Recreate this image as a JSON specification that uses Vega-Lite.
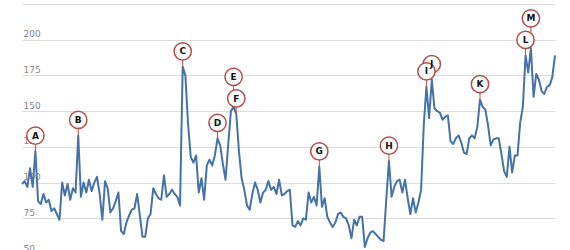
{
  "$schema": "https://vega.github.io/schema/vega-lite/v6.json",
  "width": 533,
  "height": 246,
  "autosize": {"type": "none"},
  "padding": {"left": 22, "top": 4, "right": 15, "bottom": 0},
  "background": "white",
  "config": {
    "view": {"stroke": null},
    "axisY": {
      "title": null,
      "grid": true, "gridColor": "#dcdcdc", "gridWidth": 1,
      "domain": false, "ticks": false, "tickSize": 0,
      "labelAlign": "left", "labelBaseline": "alphabetic",
      "labelPadding": -1, "labelOffset": -3,
      "labelColor": "#888888", "labelFont": "DejaVu Sans", "labelFontSize": 9,
      "labelBound": false, "labelFlush": false, "labelOverlap": false
    }
  },
  "datasets": {
    "series": [
      {"t":0,"v":99},{"t":1,"v":101},{"t":2,"v":97},{"t":3,"v":110},{"t":4,"v":97},{"t":5,"v":122},{"t":6,"v":87},{"t":7,"v":85},{"t":8,"v":92},{"t":9,"v":86},
      {"t":10,"v":88},{"t":11,"v":80},{"t":12,"v":82},{"t":13,"v":78},{"t":14,"v":74},{"t":15,"v":100},{"t":16,"v":91},{"t":17,"v":99},{"t":18,"v":88},{"t":19,"v":96},
      {"t":20,"v":93},{"t":21,"v":133},{"t":22,"v":90},{"t":23,"v":100},{"t":24,"v":93},{"t":25,"v":102},{"t":26,"v":94},{"t":27,"v":100},{"t":28,"v":104},{"t":29,"v":92},
      {"t":30,"v":74},{"t":31,"v":101},{"t":32,"v":96},{"t":33,"v":79},{"t":34,"v":82},{"t":35,"v":87},{"t":36,"v":93},{"t":37,"v":66},{"t":38,"v":64},{"t":39,"v":72},
      {"t":40,"v":77},{"t":41,"v":81},{"t":42,"v":82},{"t":43,"v":92},{"t":44,"v":77},{"t":45,"v":62},{"t":46,"v":62},{"t":47,"v":75},{"t":48,"v":78},{"t":49,"v":96},
      {"t":50,"v":92},{"t":51,"v":89},{"t":52,"v":88},{"t":53,"v":105},{"t":54,"v":90},{"t":55,"v":92},{"t":56,"v":95},{"t":57,"v":92},{"t":58,"v":90},{"t":59,"v":84},
      {"t":60,"v":181},{"t":61,"v":175},{"t":62,"v":141},{"t":63,"v":118},{"t":64,"v":114},{"t":65,"v":119},{"t":66,"v":93},{"t":67,"v":103},{"t":68,"v":88},{"t":69,"v":112},
      {"t":70,"v":116},{"t":71,"v":112},{"t":72,"v":119},{"t":73,"v":131},{"t":74,"v":126},{"t":75,"v":113},{"t":76,"v":102},{"t":77,"v":127},{"t":78,"v":150},{"t":79,"v":153},
      {"t":80,"v":148},{"t":81,"v":122},{"t":82,"v":103},{"t":83,"v":95},{"t":84,"v":84},{"t":85,"v":81},{"t":86,"v":92},{"t":87,"v":100},{"t":88,"v":95},{"t":89,"v":86},
      {"t":90,"v":93},{"t":91,"v":95},{"t":92,"v":101},{"t":93,"v":95},{"t":94,"v":97},{"t":95,"v":92},{"t":96,"v":102},{"t":97,"v":91},{"t":98,"v":92},{"t":99,"v":94},
      {"t":100,"v":95},{"t":101,"v":70},{"t":102,"v":69},{"t":103,"v":73},{"t":104,"v":70},{"t":105,"v":75},{"t":106,"v":74},{"t":107,"v":93},{"t":108,"v":86},{"t":109,"v":90},
      {"t":110,"v":84},{"t":111,"v":111},{"t":112,"v":83},{"t":113,"v":89},{"t":114,"v":76},{"t":115,"v":72},{"t":116,"v":69},{"t":117,"v":72},{"t":118,"v":78},{"t":119,"v":79},
      {"t":120,"v":76},{"t":121,"v":75},{"t":122,"v":70},{"t":123,"v":61},{"t":124,"v":74},{"t":125,"v":70},{"t":126,"v":76},{"t":127,"v":76},{"t":128,"v":55},{"t":129,"v":61},
      {"t":130,"v":65},{"t":131,"v":66},{"t":132,"v":64},{"t":133,"v":62},{"t":134,"v":60},{"t":135,"v":59},{"t":136,"v":88},{"t":137,"v":115},{"t":138,"v":90},{"t":139,"v":97},
      {"t":140,"v":101},{"t":141,"v":102},{"t":142,"v":93},{"t":143,"v":102},{"t":144,"v":89},{"t":145,"v":78},{"t":146,"v":89},{"t":147,"v":79},{"t":148,"v":86},{"t":149,"v":95},
      {"t":150,"v":140},{"t":151,"v":167},{"t":152,"v":145},{"t":153,"v":172},{"t":154,"v":152},{"t":155,"v":150},{"t":156,"v":149},{"t":157,"v":144},{"t":158,"v":146},{"t":159,"v":147},
      {"t":160,"v":129},{"t":161,"v":127},{"t":162,"v":131},{"t":163,"v":133},{"t":164,"v":128},{"t":165,"v":121},{"t":166,"v":120},{"t":167,"v":131},{"t":168,"v":133},{"t":169,"v":131},
      {"t":170,"v":139},{"t":171,"v":158},{"t":172,"v":153},{"t":173,"v":151},{"t":174,"v":140},{"t":175,"v":126},{"t":176,"v":130},{"t":177,"v":131},{"t":178,"v":131},{"t":179,"v":120},
      {"t":180,"v":108},{"t":181,"v":104},{"t":182,"v":125},{"t":183,"v":107},{"t":184,"v":119},{"t":185,"v":119},{"t":186,"v":142},{"t":187,"v":153},{"t":188,"v":189},{"t":189,"v":177},
      {"t":190,"v":194},{"t":191,"v":160},{"t":192,"v":176},{"t":193,"v":172},{"t":194,"v":164},{"t":195,"v":162},{"t":196,"v":167},{"t":197,"v":168},{"t":198,"v":174},{"t":199,"v":189}
    ],
    "flags": [
      {"t":5,"v":122,"label":"A","level":0},
      {"t":21,"v":133,"label":"B","level":0},
      {"t":60,"v":181,"label":"C","level":0},
      {"t":73,"v":131,"label":"D","level":0},
      {"t":80,"v":148,"label":"F","level":0},
      {"t":79,"v":153,"label":"E","level":1},
      {"t":111,"v":111,"label":"G","level":0},
      {"t":137,"v":115,"label":"H","level":0},
      {"t":153,"v":172,"label":"J","level":0},
      {"t":151,"v":167,"label":"I","level":0},
      {"t":171,"v":158,"label":"K","level":0},
      {"t":188,"v":189,"label":"L","level":0},
      {"t":190,"v":194,"label":"M","level":1}
    ]
  },
  "encoding": {
    "x": {"field": "t", "type": "quantitative", "scale": {"domain": [0, 199], "nice": false, "zero": false}, "axis": null},
    "y": {
      "field": "v", "type": "quantitative",
      "scale": {"domain": [50, 225], "range": [250, 0], "nice": false, "zero": false},
      "axis": {
        "values": [50, 75, 100, 125, 150, 175, 200, 225],
        "labelExpr": "datum.value >= 225 ? '' : datum.label"
      }
    }
  },
  "layer": [
    {
      "data": {"name": "series"},
      "mark": {"type": "line", "color": "#4572a7", "strokeWidth": 2, "strokeJoin": "round"}
    },
    {
      "data": {"name": "flags"},
      "transform": [{"filter": "datum.level == 0"}],
      "mark": {"type": "rule", "color": "#b34d4d", "strokeWidth": 1, "y2Offset": -15.5},
      "encoding": {"y2": {"field": "v"}}
    },
    {
      "data": {"name": "flags"},
      "transform": [{"filter": "datum.level == 1"}],
      "mark": {"type": "rule", "color": "#b34d4d", "strokeWidth": 1, "y2Offset": -30},
      "encoding": {"y2": {"field": "v"}}
    },
    {
      "data": {"name": "flags"},
      "transform": [{"filter": "datum.level == 0"}],
      "mark": {"type": "circle", "fill": "white", "fillOpacity": 1, "stroke": "#b34d4d", "strokeWidth": 1.5, "strokeOpacity": 1, "size": 300, "opacity": 1, "yOffset": -15.5}
    },
    {
      "data": {"name": "flags"},
      "transform": [{"filter": "datum.level == 1"}],
      "mark": {"type": "circle", "fill": "white", "fillOpacity": 1, "stroke": "#b34d4d", "strokeWidth": 1.5, "strokeOpacity": 1, "size": 300, "opacity": 1, "yOffset": -30}
    },
    {
      "data": {"name": "flags"},
      "transform": [{"filter": "datum.level == 0"}],
      "mark": {"type": "text", "font": "DejaVu Sans", "fontWeight": "bold", "fontSize": 9, "color": "#111111", "align": "center", "baseline": "middle", "yOffset": -15.5},
      "encoding": {"text": {"field": "label"}}
    },
    {
      "data": {"name": "flags"},
      "transform": [{"filter": "datum.level == 1"}],
      "mark": {"type": "text", "font": "DejaVu Sans", "fontWeight": "bold", "fontSize": 9, "color": "#111111", "align": "center", "baseline": "middle", "yOffset": -30},
      "encoding": {"text": {"field": "label"}}
    }
  ]
}
